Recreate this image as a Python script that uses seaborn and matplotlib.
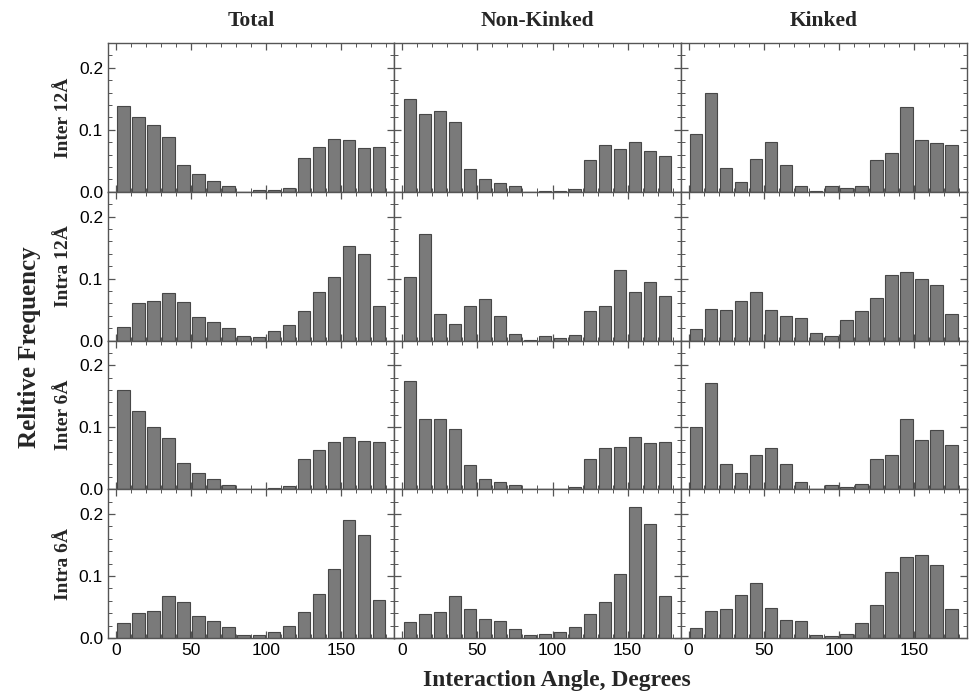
import numpy as np
import pandas as pd
import matplotlib
matplotlib.use("Agg")
import matplotlib.pyplot as plt
import seaborn as sns
from matplotlib.ticker import MultipleLocator

# bin centres of the 10-degree angle histograms
angles = np.arange(5, 180, 10)
columns = ["Total", "Non-Kinked", "Kinked"]
rows = ["Inter 12Å", "Intra 12Å", "Inter 6Å", "Intra 6Å"]

# Inter 12A
inter12_total = [0.139, 0.121, 0.108, 0.088, 0.044, 0.029, 0.018, 0.009, 0.0, 0.003,
                 0.003, 0.006, 0.055, 0.073, 0.085, 0.083, 0.070, 0.072]
inter12_nonkinked = [0.149, 0.126, 0.130, 0.112, 0.036, 0.020, 0.014, 0.009, 0.0, 0.002,
                     0.002, 0.005, 0.052, 0.076, 0.069, 0.081, 0.066, 0.058]
inter12_kinked = [0.093, 0.159, 0.038, 0.015, 0.053, 0.080, 0.044, 0.010, 0.002, 0.009,
                  0.0065, 0.010, 0.052, 0.063, 0.136, 0.083, 0.079, 0.075]

# Intra 12A
intra12_total = [0.0215, 0.061, 0.063, 0.076, 0.062, 0.038, 0.030, 0.020, 0.0075, 0.005,
                 0.0156, 0.025, 0.048, 0.078, 0.103, 0.152, 0.140, 0.055]
intra12_nonkinked = [0.102, 0.172, 0.042, 0.027, 0.055, 0.067, 0.040, 0.011, 0.0016, 0.0065,
                     0.0043, 0.0086, 0.048, 0.056, 0.114, 0.079, 0.095, 0.072]
intra12_kinked = [0.019, 0.051, 0.049, 0.064, 0.078, 0.050, 0.039, 0.036, 0.012, 0.007,
                  0.033, 0.048, 0.068, 0.105, 0.110, 0.099, 0.090, 0.042]

# Inter 6A
inter6_total = [0.160, 0.126, 0.100, 0.083, 0.042, 0.027, 0.0167, 0.007, 0.0, 0.001,
                0.0027, 0.005, 0.049, 0.064, 0.077, 0.084, 0.078, 0.076]
inter6_nonkinked = [0.175, 0.114, 0.114, 0.097, 0.039, 0.017, 0.011, 0.0065, 0.0, 0.0,
                    0.001, 0.004, 0.049, 0.066, 0.068, 0.085, 0.074, 0.077]
inter6_kinked = [0.101, 0.172, 0.041, 0.027, 0.055, 0.067, 0.040, 0.011, 0.001, 0.0065,
                 0.0043, 0.0086, 0.049, 0.056, 0.114, 0.079, 0.095, 0.0715]

# Intra 6A
intra6_total = [0.0237, 0.040, 0.0435, 0.068, 0.0575, 0.0355, 0.0274, 0.018, 0.0043, 0.0048,
                0.009, 0.019, 0.042, 0.071, 0.111, 0.191, 0.166, 0.062]
intra6_nonkinked = [0.026, 0.039, 0.0425, 0.068, 0.047, 0.031, 0.027, 0.0145, 0.0043, 0.006,
                    0.010, 0.018, 0.038, 0.058, 0.104, 0.212, 0.184, 0.067]
intra6_kinked = [0.0167, 0.043, 0.046, 0.070, 0.089, 0.049, 0.029, 0.028, 0.0043, 0.0027,
                 0.007, 0.024, 0.053, 0.106, 0.130, 0.134, 0.117, 0.047]

series = {
    ("Inter 12Å", "Total"): inter12_total,
    ("Inter 12Å", "Non-Kinked"): inter12_nonkinked,
    ("Inter 12Å", "Kinked"): inter12_kinked,
    ("Intra 12Å", "Total"): intra12_total,
    ("Intra 12Å", "Non-Kinked"): intra12_nonkinked,
    ("Intra 12Å", "Kinked"): intra12_kinked,
    ("Inter 6Å", "Total"): inter6_total,
    ("Inter 6Å", "Non-Kinked"): inter6_nonkinked,
    ("Inter 6Å", "Kinked"): inter6_kinked,
    ("Intra 6Å", "Total"): intra6_total,
    ("Intra 6Å", "Non-Kinked"): intra6_nonkinked,
    ("Intra 6Å", "Kinked"): intra6_kinked,
}

frames = []
for (r, c), vals in series.items():
    frames.append(pd.DataFrame({"set": r, "group": c, "angle": angles, "freq": vals}))
df = pd.concat(frames, ignore_index=True)

sns.set_theme(style="ticks")
plt.rcParams["font.family"] = ["Liberation Sans", "DejaVu Sans"]
serif = ["Liberation Serif", "DejaVu Serif"]

g = sns.FacetGrid(df, row="set", col="group", row_order=rows, col_order=columns,
                  height=6.94 / 4, aspect=(9.71 / 3) / (6.94 / 4),
                  sharex=True, sharey=True, despine=False)
g.map_dataframe(sns.histplot, x="angle", weights="freq", binwidth=10, binrange=(0, 180),
                shrink=0.82, color="#7a7a7a", edgecolor="#474747", linewidth=0.8, alpha=1)
g.set_titles("")

for i, r in enumerate(rows):
    for j, c in enumerate(columns):
        ax = g.axes[i, j]
        ax.set_xlim(-5.3, 185.3)
        ax.set_ylim(0, 0.24)
        ax.xaxis.set_major_locator(MultipleLocator(50))
        ax.xaxis.set_minor_locator(MultipleLocator(10))
        ax.yaxis.set_major_locator(MultipleLocator(0.1))
        ax.yaxis.set_minor_locator(MultipleLocator(0.02))
        ax.tick_params(which="both", direction="in", top=True, right=True,
                       color="#555555", labelsize=12.5, labelcolor="black")
        ax.tick_params(which="major", length=5, width=0.9)
        ax.tick_params(which="minor", length=3, width=0.7)
        for s in ax.spines.values():
            s.set_color("#555555")
            s.set_linewidth(1.0)
        ax.set_xlabel("")
        ax.set_ylabel("")
        if i == 0:
            ax.set_title(c, family=serif, fontweight="bold", fontsize=15.5, pad=12)
        if j == 0:
            ax.set_ylabel(r, family=serif, fontweight="bold", fontsize=14, labelpad=5)

g.figure.subplots_adjust(left=0.1112, right=0.9959, top=0.938, bottom=0.0807,
                         wspace=0, hspace=0)
g.figure.text(0.03, 0.50, "Relitive Frequency", rotation=90, ha="center", va="center",
              family=serif, fontweight="bold", fontsize=18)
g.figure.text(0.573, 0.019, "Interaction Angle, Degrees", ha="center", va="center",
              family=serif, fontweight="bold", fontsize=17)

g.figure.savefig("out.png", dpi=100)
